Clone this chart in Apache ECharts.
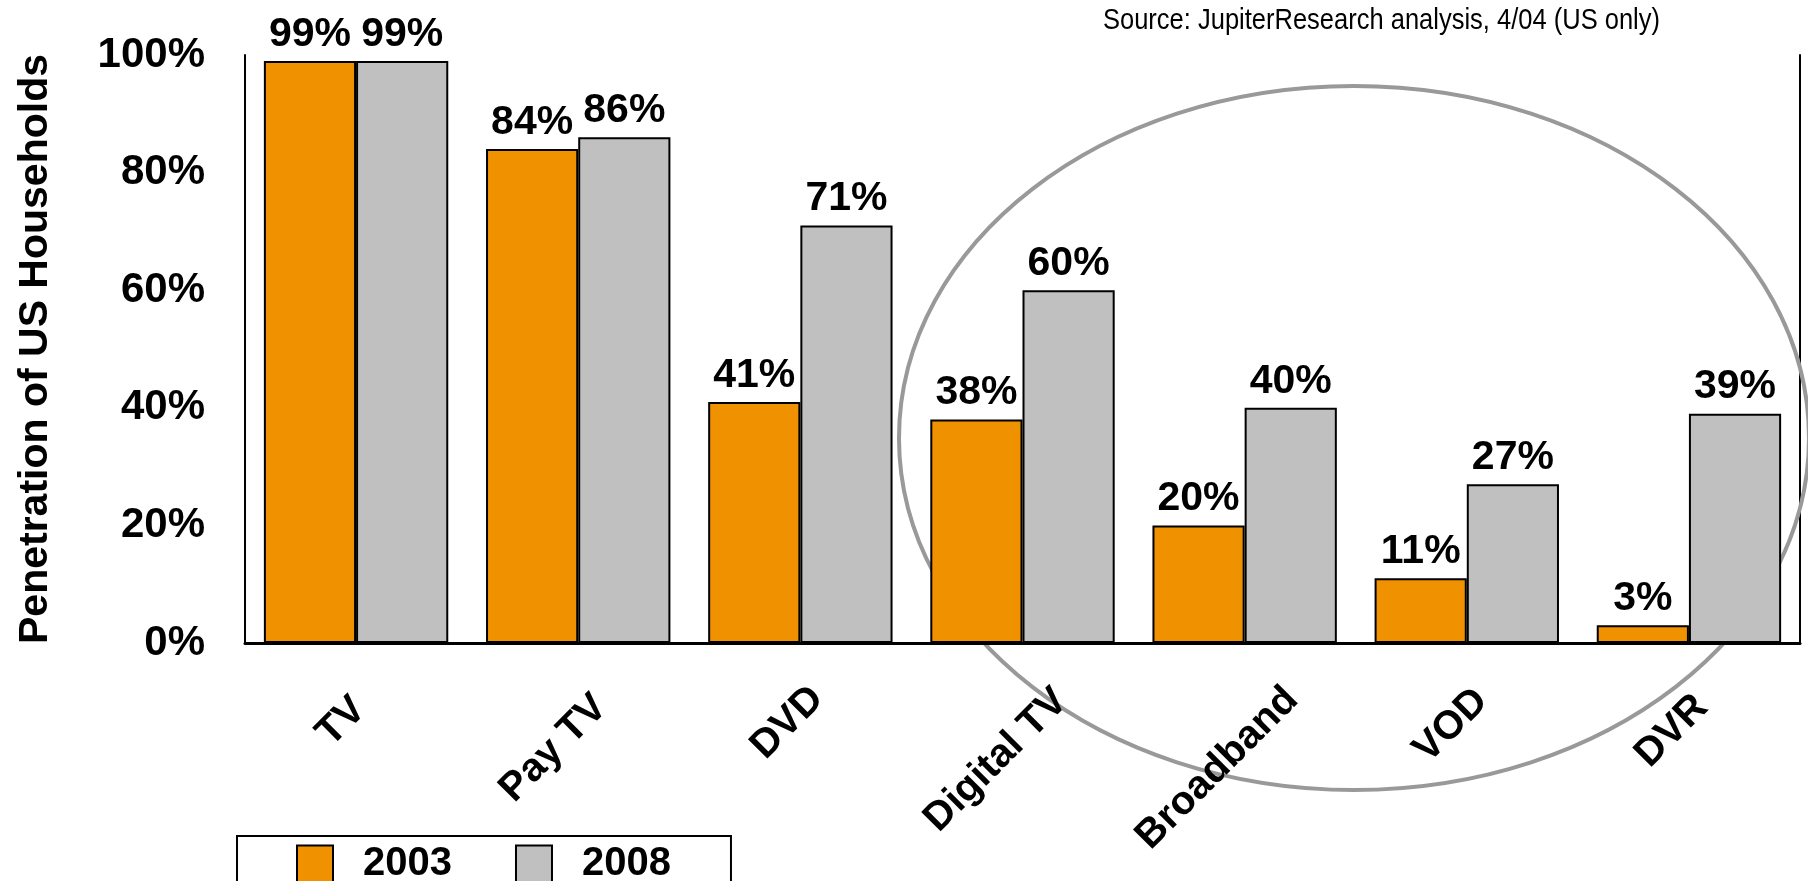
<!DOCTYPE html>
<html>
<head>
<meta charset="utf-8">
<title>Penetration of US Households</title>
<script src="https://cdn.jsdelivr.net/npm/echarts@6/dist/echarts.min.js"></script>
<style>
  html, body { margin: 0; padding: 0; background: #fff; }
  #plotContainer { width: 1808px; height: 881px; }
</style>
</head>
<body>
<div id="plotContainer"></div>
<script>
// 数据
const categories = ['TV', 'Pay TV', 'DVD', 'Digital TV', 'Broadband', 'VOD', 'DVR'];
const years = ['2003', '2008'];
const values2003 = [99, 84, 41, 38, 20, 11, 3];
const values2008 = [99, 86, 71, 60, 40, 27, 39];
const yTicks = [0, 20, 40, 60, 80, 100];

// Excel centres its slanted labels, echarts hangs them off the tick: nudge each one [along text, across text]
const labelNudge = [[5, 0], [20, 12], [22, 2], [36, 19], [43, 24], [19, 2], [13, 5]];

const FONT = '"Liberation Sans", Arial, sans-serif';
const orange = '#F09100';
const grey = '#C0C0C0';

const chartDom = document.getElementById('plotContainer');
const myChart = echarts.init(chartDom);

const barLabel = {
    show: true,
    position: 'top',
    distance: 6,
    formatter: '{c}%',
    color: '#000',
    fontFamily: FONT,
    fontWeight: 'bold',
    fontSize: 41
};

const option = {
    animation: false,
    backgroundColor: '#fff',
    textStyle: { fontFamily: FONT },
    grid: { left: 245, right: 8, top: 55, bottom: 238, containLabel: false },
    legend: {
        data: years,
        left: 237,
        top: 836,
        orient: 'horizontal',
        backgroundColor: '#fff',
        borderColor: '#000',
        borderWidth: 2,
        borderRadius: 0,
        padding: [8, 60, 40, 59],
        itemWidth: 36,
        itemHeight: 37,
        itemGap: 63,
        icon: 'rect',
        textStyle: {
            color: '#000',
            fontFamily: FONT,
            fontWeight: 'bold',
            fontSize: 40,
            padding: [0, 0, 0, 25]
        }
    },
    xAxis: {
        type: 'category',
        data: categories.map((name, i) => ({
            value: name,
            // rich 模式下上下 padding 才生效
            textStyle: { padding: [labelNudge[i][1] * 2, -labelNudge[i][0], 0, 0] }
        })),
        z: 5,
        axisLine: { show: true, lineStyle: { color: '#000', width: 3 } },
        axisTick: { show: false },
        axisLabel: {
            interval: 0,
            rotate: 45,
            margin: 64,
            color: '#000',
            fontFamily: FONT,
            fontWeight: 'bold',
            fontSize: 40,
            rich: { n: {} }
        },
        splitLine: { show: false }
    },
    yAxis: [
        {
            type: 'value',
            min: yTicks[0],
            max: yTicks[yTicks.length - 1],
            interval: 20,
            name: 'Penetration of US Households',
            nameLocation: 'middle',
            nameGap: 189,
            nameTextStyle: {
                color: '#000',
                fontFamily: FONT,
                fontWeight: 'bold',
                fontSize: 41
            },
            axisLine: { show: true, lineStyle: { color: '#000', width: 2 } },
            axisTick: { show: false },
            splitLine: { show: false },
            axisLabel: {
                margin: 40,
                formatter: '{value}%',
                color: '#000',
                fontFamily: FONT,
                fontWeight: 'bold',
                fontSize: 42
            }
        },
        {
            // 右侧边框
            type: 'value',
            position: 'right',
            min: yTicks[0],
            max: yTicks[yTicks.length - 1],
            interval: 20,
            axisLine: { show: true, lineStyle: { color: '#000', width: 2 } },
            axisTick: { show: false },
            axisLabel: { show: false },
            splitLine: { show: false }
        }
    ],
    series: [
        {
            name: years[0],
            type: 'bar',
            data: values2003,
            barGap: '0%',
            barCategoryGap: '17%',
            itemStyle: { color: orange, borderColor: '#000', borderWidth: 2 },
            label: barLabel,
            z: 3
        },
        {
            name: years[1],
            type: 'bar',
            data: values2008,
            barGap: '0%',
            barCategoryGap: '17%',
            itemStyle: { color: grey, borderColor: '#000', borderWidth: 2 },
            label: barLabel,
            z: 3
        }
    ],
    graphic: [
        {
            type: 'ellipse',
            z: 1,
            silent: true,
            shape: { cx: 1354, cy: 438, rx: 455, ry: 352 },
            style: { fill: 'none', stroke: '#999999', lineWidth: 4 }
        },
        {
            type: 'text',
            x: 1103,
            y: 21,
            scaleX: 0.85,
            silent: true,
            style: {
                text: 'Source: JupiterResearch analysis, 4/04 (US only)',
                fill: '#000',
                font: '30px ' + FONT,
                align: 'left',
                verticalAlign: 'middle'
            }
        }
    ]
};

option && myChart.setOption(option);
window.onresize = () => {
    myChart.resize();
};
</script>
</body>
</html>
